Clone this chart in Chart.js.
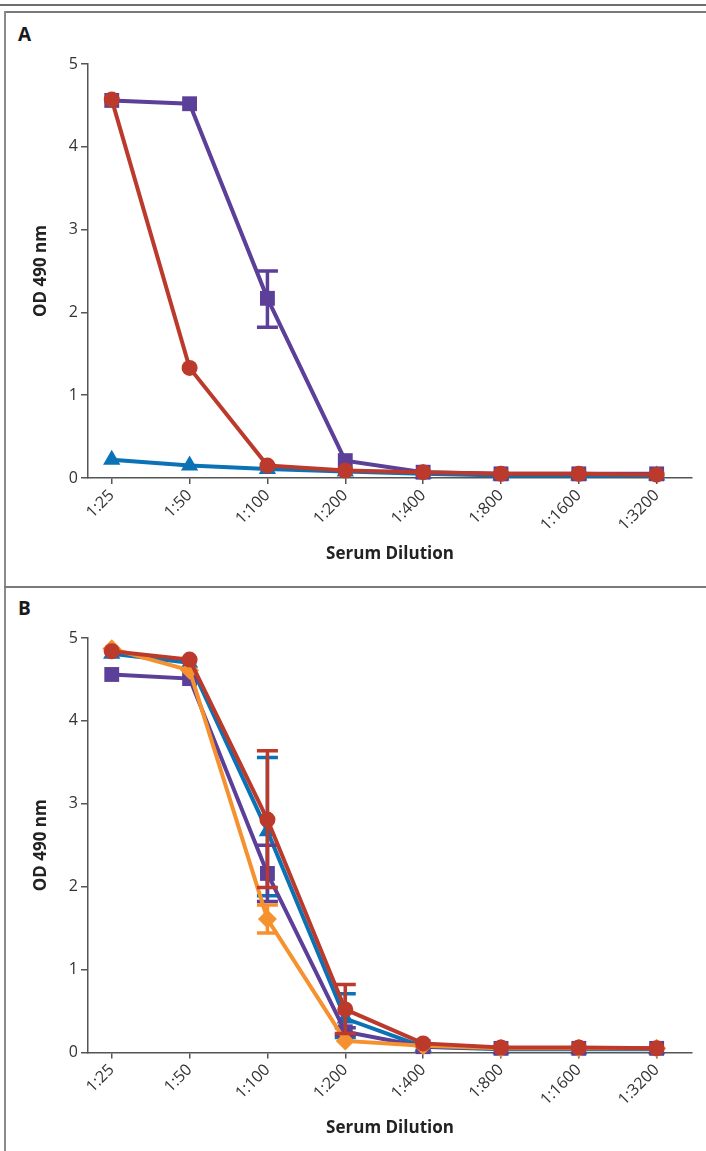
<!DOCTYPE html>
<html><head><meta charset="utf-8">
<script src="https://cdn.jsdelivr.net/npm/chart.js@4.4.1/dist/chart.umd.min.js"></script>
<style>
html,body{margin:0;padding:0;background:#fff;}
body{width:706px;height:1151px;position:relative;overflow:hidden;font-family:"Open Sans",sans-serif;}
.ln{position:absolute;background:#6e6e6e;}
.lbl{position:absolute;font-weight:700;font-size:19px;color:#1a1a1a;line-height:1;}
canvas{position:absolute;left:0;}
</style></head><body>
<div class="ln" style="left:0;top:4px;width:706px;height:2px"></div>
<div class="ln" style="left:4px;top:11px;width:702px;height:2px;background:#7a7a7a"></div>
<div class="ln" style="left:4px;top:11px;width:2px;height:1140px;background:#8a8a8a"></div>
<div class="ln" style="left:4px;top:586px;width:702px;height:2px;background:#7a7a7a"></div>
<div class="lbl" style="left:18px;top:25px">A</div>
<div class="lbl" style="left:18px;top:599px">B</div>
<canvas id="cA" width="706" height="574" style="top:12px"></canvas>
<canvas id="cB" width="706" height="563" style="top:588px"></canvas>
<script>
const dilutions = ['1:25','1:50','1:100','1:200','1:400','1:800','1:1600','1:3200'];
const yTickValues = [0,1,2,3,4,5];

// Panel A
const aRed    = [4.57, 1.33, 0.15, 0.09, 0.07, 0.05, 0.05, 0.04];
const aPurple = [4.56, 4.52, 2.17, 0.21, 0.07, 0.05, 0.05, 0.05];
const aPurpleHi = [null, null, 2.50, null, null, null, null, null];
const aPurpleLo = [null, null, 1.82, null, null, null, null, null];
const aBlue   = [0.22, 0.15, 0.11, 0.08, 0.05, 0.03, 0.03, 0.03];

// Panel B
const bRed    = [4.84, 4.74, 2.81, 0.52, 0.11, 0.06, 0.06, 0.05];
const bRedHi  = [null, null, 3.64, 0.82, null, null, null, null];
const bRedLo  = [null, null, 1.99, 0.23, null, null, null, null];
const bOrange = [4.87, 4.61, 1.61, 0.14, 0.08, 0.05, 0.05, 0.05];
const bOrangeHi = [null, null, 1.78, null, null, null, null, null];
const bOrangeLo = [null, null, 1.44, null, null, null, null, null];
const bPurple = [4.56, 4.51, 2.16, 0.25, 0.07, 0.05, 0.05, 0.05];
const bPurpleHi = [null, null, 2.50, 0.30, null, null, null, null];
const bPurpleLo = [null, null, 1.82, 0.21, null, null, null, null];
const bBlue   = [4.81, 4.70, 2.67, 0.41, 0.07, 0.04, 0.04, 0.04];
const bBlueHi = [null, null, 3.56, 0.71, null, null, null, null];
const bBlueLo = [null, null, 1.89, 0.18, null, null, null, null];

const FONT = '"Open Sans", "Noto Sans", sans-serif';
const COL = {purple:'#5b3f98', red:'#bc3a2b', blue:'#0b72b6', orange:'#f5922f'};
const STYLE = {
  red:{pointStyle:'circle', r:8},
  purple:{pointStyle:'rect', r:10.5},
  blue:{pointStyle:'triangle', r:10},
  orange:{pointStyle:'rectRot', r:9.5}
};

function pts(arr){ return arr.map((v,i)=>({x:i, y:v})); }
function series(label, key, values, hi, lo){
  const c = COL[key], s = STYLE[key];
  return {label, data:pts(values), errHi:hi||null, errLo:lo||null,
    borderColor:c, backgroundColor:c, pointBackgroundColor:c, pointBorderColor:c,
    pointBorderWidth:0, pointStyle:s.pointStyle, pointRadius:s.r, pointHoverRadius:s.r,
    borderWidth:4, tension:0, fill:false, clip:false};
}

const errorBars = {
  id:'errorBars',
  afterDatasetDraw(chart, args){
    const ds = chart.data.datasets[args.index];
    if(!ds.errHi) return;
    const ctx = chart.ctx, x = chart.scales.x, y = chart.scales.y;
    ctx.save();
    ctx.strokeStyle = ds.borderColor; ctx.lineWidth = 3.5; ctx.lineCap = 'butt';
    ds.errHi.forEach((hi,i)=>{
      const lo = ds.errLo[i];
      if(hi==null || lo==null) return;
      const px = x.getPixelForValue(i), ph = y.getPixelForValue(hi), pl = y.getPixelForValue(lo);
      ctx.beginPath();
      ctx.moveTo(px, ph); ctx.lineTo(px, pl);
      ctx.moveTo(px-10.5, ph); ctx.lineTo(px+10.5, ph);
      ctx.moveTo(px-10.5, pl); ctx.lineTo(px+10.5, pl);
      ctx.stroke();
    });
    ctx.restore();
  }
};

function makeOptions(cfg){
  return {
    responsive:false, animation:false, devicePixelRatio:1, events:[],
    layout:{padding:{left:0, right:14, top:cfg.top, bottom:0}},
    plugins:{legend:{display:false}, tooltip:{enabled:false}},
    scales:{
      x:{type:'linear', min:-0.305, max:7.454,
        afterBuildTicks:s=>{ s.ticks = dilutions.map((_,i)=>({value:i})); },
        afterFit:s=>{ s.height = cfg.xh; },
        grid:{drawOnChartArea:false, drawTicks:true, tickLength:6, color:'#555', lineWidth:1.5},
        border:{display:true, color:'#555', width:1.5},
        ticks:{autoSkip:false, maxRotation:45, minRotation:45, padding:2, color:'#333',
          font:{family:FONT, size:16}, callback:v=>dilutions[v]},
        title:{display:true, text:'Serum Dilution', color:'#222',
          font:{family:FONT, size:17, weight:'bold'}, padding:{top:0, bottom:cfg.tpb}}
      },
      y:{type:'linear', min:0, max:5,
        afterBuildTicks:s=>{ s.ticks = yTickValues.map(v=>({value:v})); },
        afterFit:s=>{ s.width = 88; },
        grid:{drawOnChartArea:false, drawTicks:true, tickLength:7, color:'#555', lineWidth:1.5},
        border:{display:true, color:'#555', width:1.5},
        ticks:{padding:3, color:'#333', font:{family:FONT, size:16}},
        title:{display:true, text:'OD 490 nm', color:'#222',
          font:{family:FONT, size:17, weight:'bold'}, padding:{top:31, bottom:0}}
      }
    }
  };
}

new Chart(document.getElementById('cA'), {
  type:'line',
  data:{datasets:[
    series('Red', 'red', aRed),
    series('Purple', 'purple', aPurple, aPurpleHi, aPurpleLo),
    series('Blue', 'blue', aBlue)
  ]},
  options:makeOptions({top:52, xh:108, tpb:22}),
  plugins:[errorBars]
});

new Chart(document.getElementById('cB'), {
  type:'line',
  data:{datasets:[
    series('Red', 'red', bRed, bRedHi, bRedLo),
    series('Orange', 'orange', bOrange, bOrangeHi, bOrangeLo),
    series('Purple', 'purple', bPurple, bPurpleHi, bPurpleLo),
    series('Blue', 'blue', bBlue, bBlueHi, bBlueLo)
  ]},
  options:makeOptions({top:50, xh:98.5, tpb:13}),
  plugins:[errorBars]
});
</script>
</body></html>
